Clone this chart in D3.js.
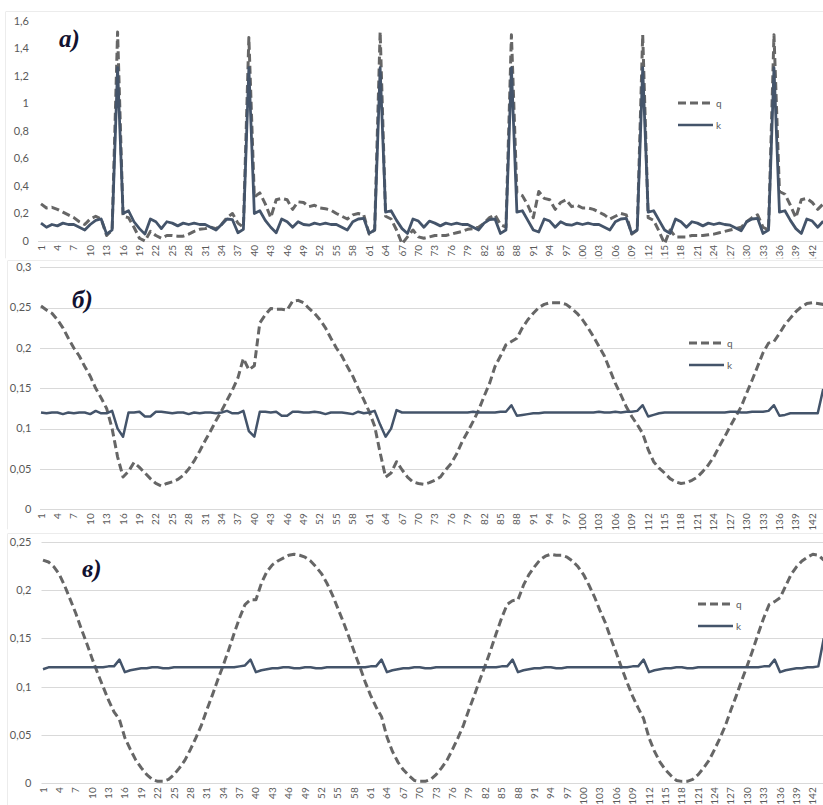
<!DOCTYPE html>
<html>
<head>
<meta charset="utf-8">
<script src="https://cdn.jsdelivr.net/npm/d3@7"></script>
<style>
body { margin: 0; background: #fff; }
svg { display: block; }
</style>
</head>
<body>
<svg id="chart"></svg>
<script>
// hours 1..144, six days
var hours = d3.range(1, 145);

// panel a)
var qA = [0.27,0.24,0.245,0.23,0.21,0.19,0.17,0.14,0.12,0.16,0.18,0.16,
    0.04,0.08,1.52,0.18,0.17,0.1,0.02,0.0,0.07,0.04,0.02,0.04,
    0.04,0.035,0.035,0.05,0.07,0.085,0.09,0.1,0.09,0.12,0.17,0.2,
    0.13,0.1,1.48,0.32,0.35,0.27,0.17,0.3,0.31,0.3,0.23,0.285,
    0.28,0.25,0.26,0.24,0.235,0.225,0.2,0.18,0.16,0.19,0.2,0.19,
    0.05,0.08,1.52,0.18,0.16,0.08,-0.02,0.03,0.08,0.03,0.02,0.03,
    0.04,0.04,0.04,0.05,0.06,0.07,0.085,0.09,0.1,0.13,0.17,0.19,
    0.12,0.1,1.5,0.35,0.33,0.26,0.17,0.36,0.31,0.3,0.23,0.28,
    0.3,0.25,0.26,0.24,0.24,0.23,0.21,0.19,0.16,0.18,0.2,0.19,
    0.05,0.08,1.5,0.17,0.15,0.07,-0.02,0.08,0.03,0.03,0.03,0.04,
    0.04,0.04,0.045,0.05,0.06,0.07,0.08,0.09,0.1,0.14,0.17,0.19,
    0.1,0.08,1.5,0.36,0.34,0.26,0.17,0.3,0.31,0.28,0.23,0.27];

var kA = [0.13,0.10,0.12,0.11,0.13,0.12,0.12,0.10,0.08,0.12,0.15,0.16,
    0.05,0.08,1.26,0.20,0.22,0.14,0.09,0.05,0.16,0.14,0.09,0.14,
    0.13,0.11,0.13,0.12,0.13,0.12,0.12,0.10,0.08,0.12,0.16,0.155,
    0.06,0.085,1.26,0.20,0.22,0.15,0.10,0.06,0.16,0.14,0.10,0.14,
    0.12,0.115,0.13,0.12,0.13,0.12,0.12,0.10,0.08,0.14,0.16,0.165,
    0.055,0.08,1.26,0.21,0.22,0.15,0.09,0.055,0.16,0.145,0.10,0.145,
    0.13,0.11,0.13,0.12,0.13,0.12,0.12,0.10,0.08,0.13,0.155,0.16,
    0.055,0.08,1.26,0.21,0.22,0.15,0.08,0.065,0.16,0.145,0.10,0.14,
    0.12,0.115,0.13,0.12,0.13,0.12,0.12,0.10,0.08,0.14,0.16,0.165,
    0.055,0.08,1.26,0.21,0.22,0.15,0.08,0.055,0.16,0.14,0.10,0.14,
    0.13,0.11,0.13,0.12,0.13,0.12,0.115,0.095,0.075,0.14,0.16,0.165,
    0.055,0.08,1.26,0.21,0.22,0.15,0.09,0.055,0.16,0.145,0.10,0.145];

// panel б)
var qB = [0.252,0.247,0.243,0.235,0.225,0.212,0.2,0.19,0.177,0.165,0.15,0.138,
    0.125,0.1,0.065,0.04,0.047,0.058,0.052,0.045,0.038,0.032,0.029,0.032,
    0.034,0.037,0.042,0.05,0.06,0.072,0.085,0.097,0.11,0.122,0.135,0.148,
    0.163,0.187,0.173,0.178,0.231,0.241,0.249,0.248,0.248,0.247,0.258,0.259,
    0.256,0.249,0.243,0.235,0.225,0.212,0.2,0.19,0.177,0.165,0.15,0.136,
    0.121,0.103,0.07,0.04,0.045,0.059,0.049,0.04,0.034,0.032,0.031,0.033,
    0.036,0.04,0.049,0.057,0.069,0.084,0.096,0.109,0.123,0.14,0.156,0.177,
    0.19,0.204,0.208,0.212,0.225,0.235,0.243,0.25,0.254,0.256,0.256,0.256,
    0.254,0.249,0.243,0.235,0.225,0.214,0.202,0.19,0.173,0.156,0.142,0.127,
    0.115,0.105,0.094,0.074,0.059,0.051,0.045,0.038,0.034,0.032,0.033,0.036,
    0.04,0.047,0.055,0.065,0.078,0.09,0.103,0.115,0.127,0.144,0.16,0.177,
    0.194,0.206,0.208,0.218,0.229,0.237,0.245,0.251,0.255,0.256,0.255,0.254];

var kB = [0.12,0.119,0.12,0.12,0.118,0.12,0.119,0.12,0.12,0.118,0.122,0.119,
    0.119,0.122,0.1,0.09,0.12,0.12,0.121,0.115,0.115,0.121,0.121,0.12,
    0.119,0.12,0.12,0.118,0.12,0.119,0.12,0.12,0.119,0.12,0.122,0.119,
    0.119,0.122,0.097,0.09,0.121,0.121,0.12,0.121,0.116,0.116,0.121,0.121,
    0.12,0.12,0.121,0.12,0.118,0.12,0.12,0.12,0.119,0.118,0.121,0.119,
    0.12,0.122,0.105,0.09,0.1,0.123,0.12,0.12,0.12,0.12,0.12,0.12,
    0.12,0.12,0.12,0.12,0.12,0.12,0.12,0.121,0.12,0.12,0.12,0.12,
    0.121,0.121,0.129,0.116,0.117,0.118,0.119,0.119,0.12,0.12,0.12,0.12,
    0.12,0.12,0.12,0.12,0.12,0.12,0.121,0.12,0.12,0.121,0.12,0.121,
    0.121,0.122,0.129,0.115,0.117,0.119,0.12,0.12,0.12,0.12,0.12,0.12,
    0.12,0.12,0.12,0.12,0.12,0.12,0.121,0.121,0.12,0.12,0.121,0.121,
    0.121,0.122,0.129,0.116,0.117,0.119,0.119,0.119,0.119,0.119,0.119,0.149];

// panel в)
var qC = [0.231,0.229,0.224,0.216,0.204,0.19,0.176,0.16,0.145,0.129,0.114,0.1,
    0.086,0.074,0.066,0.047,0.035,0.024,0.016,0.009,0.004,0.002,0.002,0.004,
    0.009,0.016,0.024,0.035,0.047,0.06,0.076,0.091,0.107,0.122,0.138,0.155,
    0.171,0.185,0.19,0.19,0.207,0.219,0.226,0.23,0.233,0.236,0.237,0.236,
    0.234,0.23,0.224,0.217,0.207,0.195,0.181,0.167,0.152,0.136,0.121,0.105,
    0.091,0.079,0.069,0.048,0.033,0.022,0.014,0.008,0.003,0.002,0.002,0.004,
    0.009,0.016,0.024,0.035,0.047,0.06,0.076,0.091,0.107,0.122,0.138,0.155,
    0.171,0.185,0.189,0.19,0.205,0.216,0.224,0.231,0.235,0.237,0.236,0.236,
    0.234,0.23,0.224,0.216,0.205,0.193,0.179,0.166,0.15,0.135,0.119,0.104,
    0.09,0.078,0.067,0.047,0.033,0.022,0.014,0.008,0.003,0.002,0.002,0.004,
    0.009,0.016,0.024,0.035,0.047,0.06,0.076,0.091,0.107,0.122,0.138,0.155,
    0.171,0.185,0.188,0.192,0.204,0.216,0.224,0.23,0.234,0.237,0.236,0.231];

var kC = [0.118,0.12,0.12,0.12,0.12,0.12,0.12,0.12,0.12,0.12,0.12,0.12,
    0.121,0.121,0.128,0.115,0.117,0.118,0.119,0.119,0.12,0.12,0.119,0.119,
    0.12,0.12,0.12,0.12,0.12,0.12,0.12,0.12,0.12,0.12,0.12,0.12,
    0.121,0.122,0.128,0.115,0.117,0.118,0.119,0.119,0.12,0.12,0.119,0.119,
    0.12,0.12,0.119,0.119,0.12,0.12,0.12,0.12,0.12,0.12,0.12,0.12,
    0.121,0.121,0.128,0.115,0.117,0.118,0.119,0.119,0.12,0.12,0.119,0.119,
    0.12,0.12,0.12,0.12,0.12,0.12,0.12,0.12,0.12,0.12,0.12,0.12,
    0.121,0.121,0.128,0.115,0.117,0.118,0.119,0.119,0.12,0.12,0.119,0.119,
    0.12,0.12,0.12,0.12,0.12,0.12,0.12,0.12,0.12,0.12,0.12,0.12,
    0.121,0.121,0.128,0.115,0.117,0.118,0.119,0.119,0.12,0.12,0.119,0.119,
    0.12,0.12,0.12,0.12,0.12,0.12,0.12,0.12,0.12,0.12,0.12,0.12,
    0.121,0.121,0.128,0.115,0.117,0.118,0.119,0.119,0.12,0.12,0.121,0.15];

var seriesNames = ['q', 'k'];

var W = 823, H = 805;
var qColor = '#666666', kColor = '#44546a';
var fmt = d3.formatLocale({decimal: ',', thousands: ' ', grouping: [3], currency: ['', '']}).format('.2~f');

var panels = [
    {title: 'а)', q: qA, k: kA, fx: 5.5, fy: 11.5, fb: 258.5, yTop: 21, yBot: 241, max: 1.6, ticks: 8,
        grid: false, gx: 38, x0: 41, dx: 5.47, lblX: 29, tx: 59, ty: 47, lx: 678, ly: 103, kw: 2.8},
    {title: 'б)', q: qB, k: kB, fx: 7.5, fy: 260.5, fb: 529.5, yTop: 267.3, yBot: 509.3, max: 0.3, ticks: 6,
        grid: true, gx: 40, x0: 41, dx: 5.47, lblX: 31.5, tx: 72, ty: 308, lx: 689, ly: 343, kw: 2.5},
    {title: 'в)', q: qC, k: kC, fx: 7.5, fy: 533.5, fb: 806, yTop: 541.7, yBot: 783.3, max: 0.25, ticks: 5,
        grid: true, gx: 41.5, x0: 43, dx: 5.46, lblX: 31.5, tx: 82, ty: 577, lx: 698, ly: 604, kw: 2.5}
];

var svg = d3.select('#chart')
    .attr('width', W)
    .attr('height', H)
    .style('font-family', 'Lato, "Open Sans", sans-serif');

svg.append('rect').attr('width', W).attr('height', H).attr('fill', '#fff');

var defs = svg.append('defs');

panels.forEach(function(p, n) {
    defs.append('clipPath').attr('id', 'clip' + n)
        .append('rect')
        .attr('x', p.fx).attr('y', p.fy)
        .attr('width', W - p.fx).attr('height', p.fb - p.fy);

    var g = svg.append('g').attr('clip-path', 'url(#clip' + n + ')');

    // frame
    g.append('path')
        .attr('d', 'M' + W + ',' + p.fy + 'H' + p.fx + 'V' + p.fb)
        .attr('fill', 'none')
        .attr('stroke', '#d9d9d9')
        .attr('stroke-width', 1);

    var x = d3.scalePoint()
        .domain(hours)
        .range([p.x0, p.x0 + (hours.length - 1) * p.dx]);

    var y = d3.scaleLinear()
        .domain([0, p.max])
        .range([p.yBot, p.yTop]);

    var yt = y.ticks(p.ticks);

    // gridlines (panel a has only the baseline)
    g.append('g').selectAll('line')
        .data(p.grid ? yt : [0])
        .enter().append('line')
        .attr('x1', p.gx).attr('x2', W)
        .attr('y1', function(d) { return Math.round(y(d)) + 0.5 })
        .attr('y2', function(d) { return Math.round(y(d)) + 0.5 })
        .attr('stroke', '#d9d9d9')
        .attr('stroke-width', 1);

    // y labels
    g.append('g').selectAll('text')
        .data(yt)
        .enter().append('text')
        .attr('x', p.lblX)
        .attr('y', function(d) { return y(d) })
        .attr('dy', '0.35em')
        .attr('text-anchor', 'end')
        .attr('font-size', 11)
        .attr('fill', '#595959')
        .text(fmt);

    // x labels, every third hour
    g.append('g').selectAll('text')
        .data(hours.filter(function(h) { return (h - 1) % 3 === 0 }))
        .enter().append('text')
        .attr('transform', function(h) { return 'translate(' + x(h) + ',' + (p.yBot + 4) + ') rotate(-90)' })
        .attr('dy', '0.35em')
        .attr('text-anchor', 'end')
        .attr('font-size', 10)
        .attr('fill', '#595959')
        .text(function(h) { return h });

    var line = d3.line()
        .x(function(d, i) { return x(hours[i]) })
        .y(function(d) { return y(d) });

    g.append('path')
        .datum(p.q)
        .attr('d', line)
        .attr('fill', 'none')
        .attr('stroke', qColor)
        .attr('stroke-width', 3)
        .attr('stroke-dasharray', '8,4')
        .attr('stroke-linejoin', 'round');

    g.append('path')
        .datum(p.k)
        .attr('d', line)
        .attr('fill', 'none')
        .attr('stroke', kColor)
        .attr('stroke-width', p.kw)
        .attr('stroke-linejoin', 'round');

    // legend
    var leg = g.append('g').attr('transform', 'translate(' + p.lx + ',' + p.ly + ')');
    seriesNames.forEach(function(s, j) {
        leg.append('line')
            .attr('x1', 0).attr('x2', 35)
            .attr('y1', j * 22).attr('y2', j * 22)
            .attr('stroke', s === 'q' ? qColor : kColor)
            .attr('stroke-width', s === 'q' ? 3 : 2.5)
            .attr('stroke-dasharray', s === 'q' ? '8,4' : null);
        leg.append('text')
            .attr('x', 38).attr('y', j * 22)
            .attr('dy', '0.35em')
            .attr('font-size', 10)
            .attr('fill', '#595959')
            .text(s);
    });

    // panel title
    g.append('text')
        .attr('x', p.tx).attr('y', p.ty)
        .attr('font-family', '"Liberation Serif", "DejaVu Serif", serif')
        .attr('font-weight', 'bold')
        .attr('font-style', 'italic')
        .attr('font-size', 25)
        .attr('fill', '#121230')
        .text(p.title);
});
</script>
</body>
</html>
